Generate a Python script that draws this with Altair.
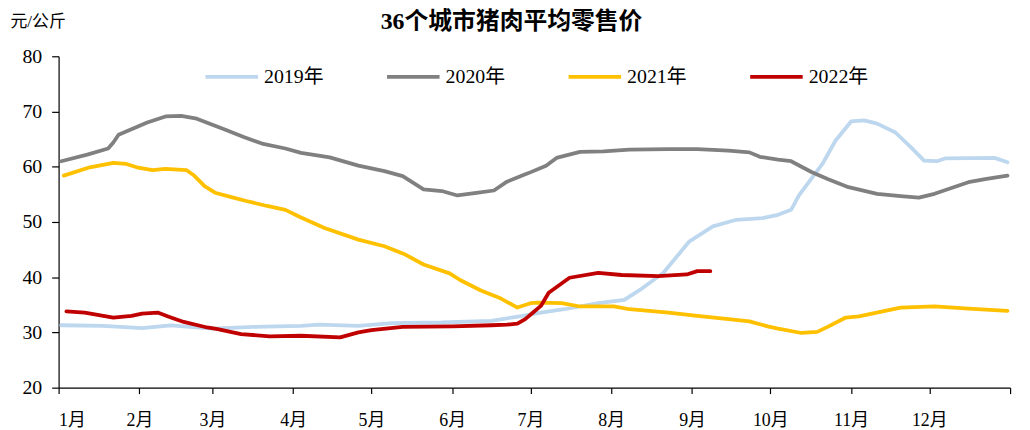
import altair as alt
import pandas as pd

series_names = ["2019年", "2020年", "2021年", "2022年"]
colors = ["#BDD7EE", "#808080", "#FFC000", "#C00000"]
widths = [3.8, 3.8, 3.8, 6]

days_2019 = [1, 17, 32, 43, 59, 75, 93, 100, 115, 128, 147, 166, 178, 185, 194, 207, 217, 223, 232, 242,
             251, 260, 270, 276, 281, 284, 293, 298, 304, 309, 314, 321, 327, 332, 337, 340, 359, 364]
vals_2019 = [31.3, 31.2, 30.8, 31.3, 30.7, 31.0, 31.2, 31.4, 31.2, 31.7, 31.8, 32.1, 33.0, 33.6, 34.2, 35.3,
             35.9, 37.7, 40.8, 46.5, 49.2, 50.4, 50.7, 51.3, 52.2, 54.8, 60.5, 64.7, 68.2, 68.4, 67.8, 66.2,
             63.5, 61.1, 61.0, 61.5, 61.6, 60.8]

days_2020 = [1, 11, 19, 21, 23, 34, 41, 47, 53, 59, 64, 71, 78, 87, 93, 104, 115, 125, 132, 140, 147, 153,
             161, 167, 172, 180, 187, 191, 200, 209, 219, 234, 245, 257, 265, 269, 276, 281, 289, 295, 303,
             314, 323, 330, 336, 349, 356, 364]
vals_2020 = [61.0, 62.2, 63.3, 64.4, 65.8, 68.0, 69.1, 69.2, 68.7, 67.6, 66.7, 65.4, 64.2, 63.3, 62.5, 61.7,
             60.2, 59.2, 58.3, 55.9, 55.6, 54.8, 55.3, 55.7, 57.3, 58.8, 60.2, 61.6, 62.7, 62.8, 63.1, 63.2,
             63.2, 62.9, 62.6, 61.8, 61.3, 61.0, 59.0, 57.8, 56.3, 55.1, 54.7, 54.4, 55.1, 57.2, 57.8, 58.4]

days_2021 = [2, 12, 21, 26, 30, 36, 41, 49, 52, 56, 60, 67, 72, 80, 87, 93, 102, 115, 125, 133, 140, 150,
             154, 162, 169, 176, 181, 184, 193, 200, 213, 219, 234, 245, 257, 265, 272, 276, 285, 291, 295,
             302, 307, 317, 323, 336, 349, 364]
vals_2021 = [58.4, 59.9, 60.7, 60.5, 59.9, 59.4, 59.6, 59.4, 58.4, 56.5, 55.3, 54.4, 53.8, 52.9, 52.2, 50.8,
             48.9, 46.8, 45.6, 44.1, 42.3, 40.7, 39.5, 37.6, 36.3, 34.5, 35.3, 35.4, 35.3, 34.7, 34.7, 34.2,
             33.6, 33.0, 32.4, 32.0, 31.1, 30.7, 29.9, 30.1, 31.0, 32.7, 32.9, 33.9, 34.5, 34.7, 34.3, 33.9]

days_2022 = [3, 10, 21, 28, 32, 38, 42, 48, 57, 61, 70, 81, 93, 108, 115, 120, 132, 151, 166, 172, 176,
             179, 182, 185, 188, 196, 207, 216, 230, 241, 245, 250]
vals_2022 = [33.8, 33.6, 32.7, 33.0, 33.4, 33.6, 32.9, 31.9, 30.9, 30.6, 29.7, 29.3, 29.4, 29.1, 30.0, 30.4,
             31.0, 31.1, 31.3, 31.4, 31.6, 32.4, 33.6, 34.8, 37.2, 39.9, 40.8, 40.4, 40.2, 40.5, 41.1, 41.1]

month_ticks = [0, 31, 59, 90, 120, 151, 181, 212, 243, 273, 304, 334, 365]
month_labels = ["1月", "2月", "3月", "4月", "5月", "6月", "7月", "8月", "9月", "10月", "11月", "12月", ""]
y_ticks = [20, 30, 40, 50, 60, 70, 80]

rows = []
for name, ds, vs in zip(series_names,
                        [days_2019, days_2020, days_2021, days_2022],
                        [vals_2019, vals_2020, vals_2021, vals_2022]):
    for d, v in zip(ds, vs):
        rows.append({"series": name, "day": d, "price": v})
df = pd.DataFrame(rows)

label_expr = "[" + ",".join("'%s'" % s for s in month_labels) + "][indexof([" + \
    ",".join(str(t) for t in month_ticks) + "], datum.value)]"

LATIN = "Liberation Serif, Noto Sans CJK SC"


def make_legend():
    return alt.Legend(
        title=None, orient="none", legendX=146, legendY=-8, direction="horizontal", columns=4,
        symbolType="stroke", symbolSize=2800, labelFont=LATIN, labelFontSize=20, labelColor="black",
        labelOffset=4, columnPadding=56,
    )


chart = alt.Chart(df).mark_line(strokeCap="round", strokeJoin="round").encode(
    x=alt.X("day:Q", scale=alt.Scale(domain=[0, 365], nice=False, zero=False),
            axis=alt.Axis(values=month_ticks, labelExpr=label_expr, title=None, grid=False,
                          tickSize=6, labelPadding=18, labelFontSize=18, labelFont=LATIN)),
    y=alt.Y("price:Q", scale=alt.Scale(domain=[20, 80], nice=False, zero=False),
            axis=alt.Axis(values=y_ticks, title="元/公斤", titleAngle=0, titleAlign="left",
                          titleBaseline="middle", titleX=-49, titleY=-35, titleFont=LATIN,
                          titleFontSize=17, titleFontWeight="normal", titleColor="black",
                          grid=False, tickSize=7, labelPadding=10, labelFontSize=20, labelFont=LATIN)),
    color=alt.Color("series:N", scale=alt.Scale(domain=series_names, range=colors),
                    legend=make_legend()),
    strokeWidth=alt.StrokeWidth("series:N", scale=alt.Scale(domain=series_names, range=widths),
                                legend=make_legend()),
).properties(
    width=959, height=334,
    autosize=alt.AutoSizeParams(type="none"),
    padding={"left": 51, "top": 47, "right": 12, "bottom": 41},
    title=alt.TitleParams("36个城市猪肉平均零售价", anchor="middle", dx=-23, offset=-22,
                          font=LATIN, fontSize=24, fontWeight="bold", color="black"),
).configure_view(stroke=None).configure_axis(
    domainColor="black", tickColor="black", labelColor="black", domainWidth=1.2, tickWidth=1.2
)

chart.save("out.html", embed_options={"renderer": "svg", "actions": False})
